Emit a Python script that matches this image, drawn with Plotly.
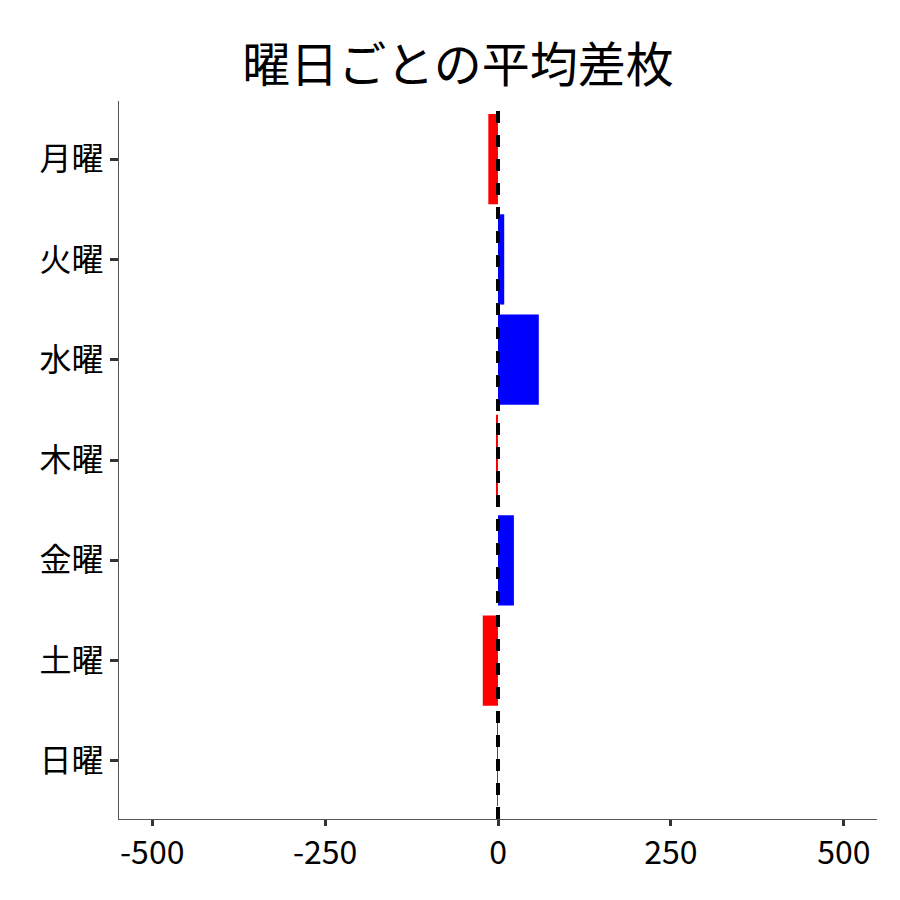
import plotly.graph_objects as go

days = ["月曜", "火曜", "水曜", "木曜", "金曜", "土曜", "日曜"]
values = [-14, 9, 59, -2, 23, -22, -1]
x_ticks = [-500, -250, 0, 250, 500]

colors = ["blue" if v > 0 else "red" for v in values]

fig = go.Figure(go.Bar(x=values, y=days, orientation="h", marker=dict(color=colors, line=dict(width=0)), width=0.9))
fig.add_vline(x=0, line=dict(color="black", width=4, dash="dash"))
fig.update_layout(
    width=900, height=900,
    font=dict(family="Noto Sans CJK JP", size=32, color="black"),
    title=dict(text="曜日ごとの平均差枚", x=0.5, xanchor="center", y=0.955, font=dict(size=48)),
    plot_bgcolor="white", paper_bgcolor="white",
    margin=dict(l=111, r=31, t=93, b=89),
    showlegend=False,
    bargap=0.1,
)
fig.update_xaxes(range=[-548, 548], tickvals=x_ticks, ticktext=[str(t) for t in x_ticks],
                 showgrid=False, zeroline=False, showline=True, linecolor="#555", linewidth=1,
                 ticks="outside", ticklen=6, tickwidth=3, tickcolor="#333")
fig.update_yaxes(categoryorder="array", categoryarray=days[::-1], showgrid=False, zeroline=False,
                 showline=True, linecolor="#555", linewidth=1,
                 ticks="outside", ticklen=8, tickwidth=3, tickcolor="#333", range=[-0.58, 6.58])
fig.write_html("out.html")
